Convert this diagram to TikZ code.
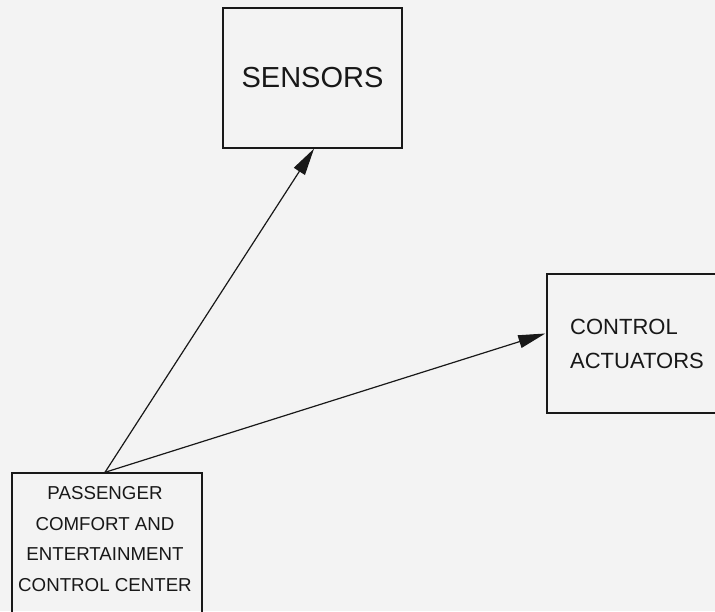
\documentclass[tikz,border=0pt]{standalone}
\usepackage{fontspec}
\setmainfont{Liberation Sans}
\usetikzlibrary{arrows.meta,calc}
\definecolor{paper}{HTML}{F3F3F3}
\definecolor{ink}{HTML}{181818}
\tikzset{
  box/.style={draw=ink, line width=1.4pt, rectangle, inner sep=0pt},
  conn/.style={draw=ink, line width=1.2pt, -{Triangle[length=27pt,width=13pt]}},
}
\begin{document}
\begin{tikzpicture}[x=1pt,y=-1pt]
  \fill[paper] (0,0) rectangle (715,611);
  \useasboundingbox (0,0) rectangle (715,611);
  \clip (0,0) rectangle (715,611);
  \node[box, minimum width=179pt, minimum height=140pt, text=ink,
        font=\fontsize{29}{34}\selectfont] (sens) at (312.5,78) {SENSORS};
  \node[box, minimum width=180pt, minimum height=139pt, align=left, text=ink,
        font=\fontsize{22}{34}\selectfont] (act) at (637,343.5) {CONTROL\\ACTUATORS};
  \node[box, minimum width=190pt, minimum height=180pt] (pcc) at (107,563) {};
  \node[align=center, font=\fontsize{18.7}{30.5}\selectfont, text=ink] (pcctext) at (105,539)
    {PASSENGER\\COMFORT AND\\ENTERTAINMENT\\CONTROL CENTER};
  \coordinate (src) at ($(pcc.north)+(-2,0)$);
  \draw[conn] (src) -- ($(sens.south)+(1.5,0)$);
  \draw[conn] (src) -- ($(act.west)+(-1,-10)$);
\end{tikzpicture}
\end{document}
